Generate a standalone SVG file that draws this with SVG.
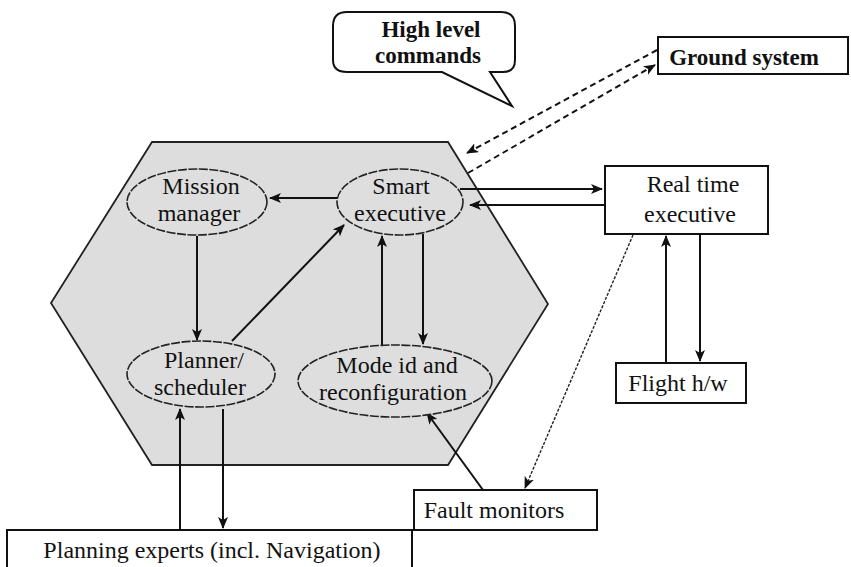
<svg xmlns="http://www.w3.org/2000/svg" width="851" height="567" viewBox="0 0 851 567">
<style>
text{font-family:'Liberation Serif','Times New Roman','DejaVu Serif',serif;font-size:24px;fill:#111;text-anchor:middle}
.b{font-weight:bold;font-size:23px}
.box{fill:#fff;stroke:#111;stroke-width:2}
.ell{fill:#dedede;stroke:#222;stroke-width:1.6;stroke-dasharray:9 1.5}
.c{fill:none;stroke:#111;stroke-width:2}
.d{fill:none;stroke:#111;stroke-width:2;stroke-dasharray:6 4}
.t{fill:none;stroke:#222;stroke-width:1.4;stroke-dasharray:3 1.5}
</style>
<defs>
<marker id="a" viewBox="0 0 12 10" refX="11" refY="5" markerWidth="12" markerHeight="10" markerUnits="userSpaceOnUse" orient="auto">
<path d="M0,0 L12,5 L0,10 L3,5 Z" fill="#111"/>
</marker>
</defs>
<g id="hexagon"><polygon points="152,142 448,142 548,304 448,465 152,465 51,303" fill="#dddddd" stroke="#222" stroke-width="1.8"/></g>
<g id="connectors">
<line class="c" x1="337" y1="198" x2="270" y2="198" marker-end="url(#a)"/>
<line class="c" x1="197" y1="236" x2="197" y2="340" marker-end="url(#a)"/>
<line class="c" x1="232" y1="341" x2="344" y2="225" marker-end="url(#a)"/>
<line class="c" x1="382" y1="345" x2="382" y2="236" marker-end="url(#a)"/>
<line class="c" x1="423" y1="234" x2="423" y2="344" marker-end="url(#a)"/>
<line class="c" x1="460" y1="189" x2="602" y2="189" marker-end="url(#a)"/>
<line class="c" x1="605" y1="205" x2="470" y2="205" marker-end="url(#a)"/>
<line class="c" x1="666" y1="363" x2="666" y2="236" marker-end="url(#a)"/>
<line class="c" x1="700" y1="234" x2="700" y2="361" marker-end="url(#a)"/>
<line class="t" x1="633" y1="235" x2="525" y2="488" marker-end="url(#a)"/>
<line class="c" x1="483" y1="490" x2="427" y2="413" marker-end="url(#a)"/>
<line class="c" x1="180" y1="530" x2="180" y2="409" marker-end="url(#a)"/>
<line class="c" x1="223" y1="409" x2="223" y2="528" marker-end="url(#a)"/>
<line class="d" x1="657" y1="50" x2="467" y2="153" marker-end="url(#a)"/>
<line class="d" x1="468" y1="173" x2="655" y2="65" marker-end="url(#a)"/>
</g>
<g id="mission"><ellipse class="ell" cx="197" cy="202" rx="70" ry="33"/><text x="201" y="194">Mission</text><text x="199" y="221">manager</text></g>
<g id="smart"><ellipse class="ell" cx="400" cy="202" rx="63" ry="33"/><text x="401" y="194">Smart</text><text x="400" y="221">executive</text></g>
<g id="planner"><ellipse class="ell" cx="201" cy="374" rx="74" ry="33"/><text x="204" y="368">Planner/</text><text x="200" y="395">scheduler</text></g>
<g id="mode"><ellipse class="ell" cx="395" cy="381" rx="97" ry="36"/><text x="397" y="373">Mode id and</text><text x="393" y="400">reconfiguration</text></g>
<g id="realtime"><rect class="box" x="605" y="166" width="163" height="68"/><text x="693" y="192">Real time</text><text x="690" y="222">executive</text></g>
<g id="flight"><rect class="box" x="616" y="363" width="130" height="40"/><text x="678" y="391">Flight h/w</text></g>
<g id="fault"><rect class="box" x="414" y="490" width="183" height="40"/><text x="494" y="518">Fault monitors</text></g>
<g id="planning"><rect class="box" x="7" y="530" width="405" height="45"/><text x="212" y="558">Planning experts (incl. Navigation)</text></g>
<g id="ground"><rect class="box" x="658" y="37" width="190" height="37"/><text class="b" x="744" y="65">Ground system</text></g>
<g id="callout"><path d="M347,12 H501 Q515,12 515,26 V60 Q515,72 503,72 H490 L512,106 L442,72 H347 Q333,72 333,60 V26 Q333,12 347,12 Z" fill="#fff" stroke="#111" stroke-width="2"/><text class="b" x="431" y="37">High level</text><text class="b" x="428" y="63">commands</text></g>
</svg>
